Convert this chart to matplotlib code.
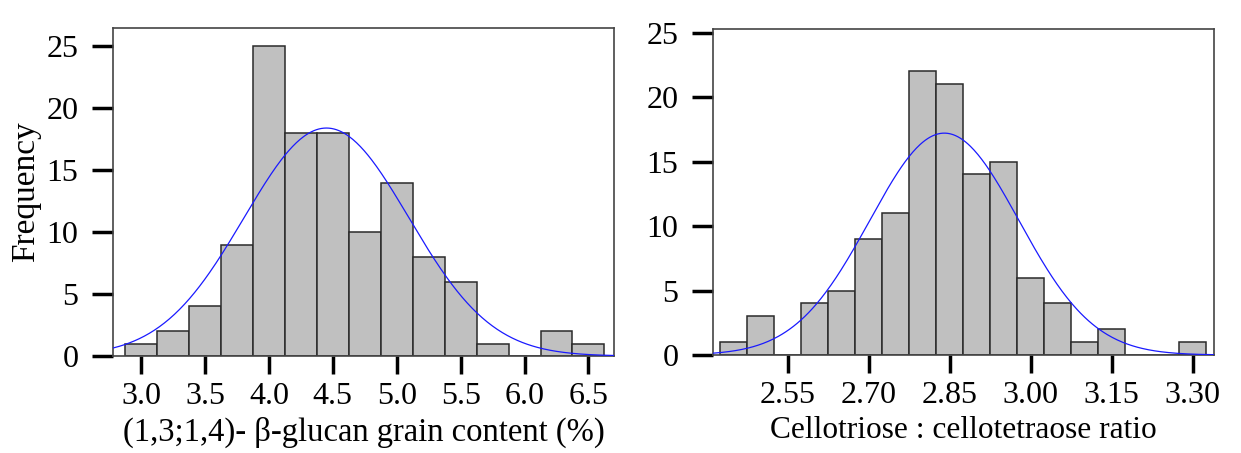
import numpy as np
import matplotlib
matplotlib.use("Agg")
import matplotlib.pyplot as plt

plt.rcParams['font.family'] = ['Liberation Serif', 'DejaVu Serif']

# left panel: beta-glucan content histogram (bin centres, counts)
glucan_centres = [3.0, 3.25, 3.5, 3.75, 4.0, 4.25, 4.5, 4.75, 5.0, 5.25, 5.5, 5.75, 6.0, 6.25, 6.5]
glucan_counts = [1, 2, 4, 9, 25, 18, 18, 10, 14, 8, 6, 1, 0, 2, 1]
glucan_width = 0.25
glucan_mean = 4.45
glucan_sd = 0.645
glucan_ticks = [3.0, 3.5, 4.0, 4.5, 5.0, 5.5, 6.0, 6.5]
glucan_ticklabels = ['3.0', '3.5', '4.0', '4.5', '5.0', '5.5', '6.0', '6.5']

# right panel: DP3:DP4 ratio histogram
ratio_centres = [2.45, 2.50, 2.55, 2.60, 2.65, 2.70, 2.75, 2.80, 2.85, 2.90,
                 2.95, 3.00, 3.05, 3.10, 3.15, 3.20, 3.25, 3.30]
ratio_counts = [1, 3, 0, 4, 5, 9, 11, 22, 21, 14, 15, 6, 4, 1, 2, 0, 0, 1]
ratio_width = 0.05
ratio_mean = 2.84
ratio_sd = 0.138
ratio_ticks = [2.55, 2.70, 2.85, 3.00, 3.15, 3.30]
ratio_ticklabels = ['2.55', '2.70', '2.85', '3.00', '3.15', '3.30']

y_ticks = [0, 5, 10, 15, 20, 25]


def normal_fit(x, n, width, mu, sd):
    # fitted normal curve scaled to counts
    return n * width / (sd * np.sqrt(2 * np.pi)) * np.exp(-0.5 * ((x - mu) / sd) ** 2)


def draw_panel(ax, centres, counts, width, mu, sd, xlim, ylim, ticks, ticklabels,
               xlabel, xlabel_size):
    ax.bar(centres, counts, width=width, color='#c0c0c0', edgecolor='#2a2a2a',
           linewidth=1.1, zorder=2)
    x = np.linspace(xlim[0], xlim[1], 400)
    ax.plot(x, normal_fit(x, sum(counts), width, mu, sd), color='#1a1aff',
            linewidth=0.9, zorder=3)
    ax.set_xlim(*xlim)
    ax.set_ylim(*ylim)
    ax.set_xticks(ticks)
    ax.set_xticklabels(ticklabels)
    ax.set_yticks(y_ticks)
    ax.tick_params(direction='out', width=2.5, color='black', labelsize=23)
    ax.tick_params(axis='y', length=15, pad=10)
    ax.tick_params(axis='x', length=13, pad=6)
    for s in ax.spines.values():
        s.set_color('#444444')
        s.set_linewidth(1.2)
    ax.set_xlabel(xlabel, fontsize=xlabel_size, labelpad=4)


fig = plt.figure(figsize=(12.41, 4.53), dpi=100)
W, H = 1241.0, 453.0
ax1 = fig.add_axes([113 / W, (H - 356) / H, (614 - 113) / W, (356 - 27.7) / H])
ax2 = fig.add_axes([713 / W, (H - 355) / H, (1214 - 713) / W, (355 - 29.3) / H])

draw_panel(ax1, glucan_centres, glucan_counts, glucan_width, glucan_mean, glucan_sd,
           (2.78, 6.70), (0, 26.5), glucan_ticks, glucan_ticklabels,
           '(1,3;1,4)- \u03b2-glucan grain content (%)', 23.5)
ax1.set_ylabel('Frequency', fontsize=24, labelpad=4)

draw_panel(ax2, ratio_centres, ratio_counts, ratio_width, ratio_mean, ratio_sd,
           (2.412, 3.339), (0, 25.25), ratio_ticks, ratio_ticklabels,
           'Cellotriose : cellotetraose ratio', 22.6)

fig.savefig('out.png', dpi=100)
